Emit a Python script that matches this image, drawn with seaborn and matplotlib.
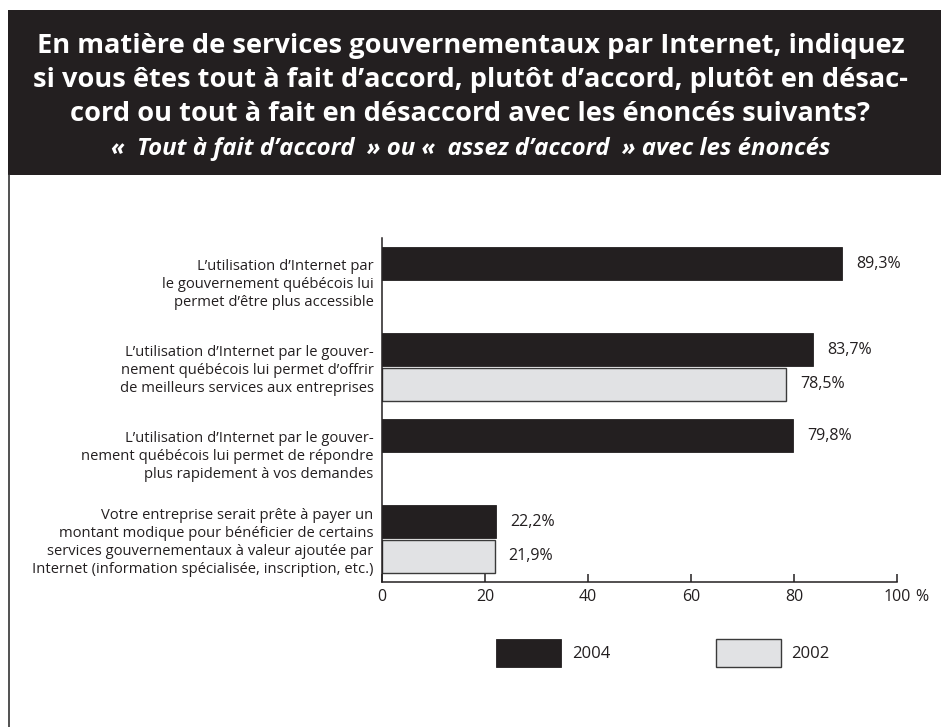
import numpy as np
import pandas as pd
import matplotlib
matplotlib.use("Agg")
import matplotlib.pyplot as plt
from matplotlib.patches import Rectangle, Patch
from matplotlib.lines import Line2D
import seaborn as sns

# --- data -------------------------------------------------------------
enonces = [
    "L\u2019utilisation d\u2019Internet par\nle gouvernement québécois lui\npermet d\u2019être plus accessible",
    "L\u2019utilisation d\u2019Internet par le gouver-\nnement québécois lui permet d\u2019offrir\nde meilleurs services aux entreprises",
    "L\u2019utilisation d\u2019Internet par le gouver-\nnement québécois lui permet de répondre\nplus rapidement à vos demandes",
    "Votre entreprise serait prête à payer un\nmontant modique pour bénéficier de certains\nservices gouvernementaux à valeur ajoutée par\nInternet (information spécialisée, inscription, etc.)",
]
annees = ["2004", "2002"]
pct_2004 = [89.3, 83.7, 79.8, 22.2]
pct_2002 = [np.nan, 78.5, np.nan, 21.9]
x_ticks = [0, 20, 40, 60, 80, 100]
x_ticklabels = ["0", "20", "40", "60", "80", "100"]

titre = ("En matière de services gouvernementaux par Internet, indiquez\n"
         "si vous êtes tout à fait d\u2019accord, plutôt d\u2019accord, plutôt en désac-\n"
         "cord ou tout à fait en désaccord avec les énoncés suivants?")
sous_titre = "«  Tout à fait d\u2019accord  » ou «  assez d\u2019accord  » avec les énoncés"

df = pd.DataFrame({
    "enonce": enonces * 2,
    "annee": [annees[0]] * len(enonces) + [annees[1]] * len(enonces),
    "pct": pct_2004 + pct_2002,
})

# --- style ------------------------------------------------------------
sns.set_theme(style="white")
plt.rcParams["font.family"] = ["Open Sans", "DejaVu Sans"]

DARK = "#231f20"
LIGHT = "#e1e2e4"
palette = {"2004": DARK, "2002": LIGHT}

W, H = 941, 727
fig = plt.figure(figsize=(W / 100, H / 100), dpi=100)

# header band and left frame line
fig.add_artist(Rectangle((8 / W, 1 - 175 / H), 1 - 8 / W, 165 / H,
                         transform=fig.transFigure, facecolor=DARK,
                         edgecolor="none", zorder=0))
fig.add_artist(Line2D([8.5 / W, 8.5 / W], [0, 1 - 175 / H],
                      transform=fig.transFigure, color="#333333", lw=1.2))

fig.text(0.5, 1 - 80 / H, titre, ha="center", va="center",
         multialignment="center", color="white", fontsize=19.6,
         fontweight="bold", linespacing=1.4)
fig.text(0.5, 1 - 149 / H, sous_titre, ha="center", va="center",
         color="white", fontsize=17.3, fontweight="bold", style="italic")

ax = fig.add_axes([382 / W, 1 - 582 / H, 515 / W, 344 / H])
sns.barplot(data=df, y="enonce", x="pct", hue="annee", hue_order=annees,
            palette=palette, orient="h", width=0.8, gap=0.05,
            errorbar=None, saturation=1, legend=False, ax=ax)

for cont, ec, lw in zip(ax.containers, [DARK, "#3a3a3a"], [0.6, 1.0]):
    for bar in cont:
        bar.set_edgecolor(ec)
        bar.set_linewidth(lw)
    labels = ["" if np.isnan(v) else f"{v:.1f}%".replace(".", ",")
              for v in cont.datavalues]
    ax.bar_label(cont, labels=labels, padding=10, fontsize=11.5, color=DARK)

ax.set_xlim(0, 100)
ax.set_ylim(3.5, -0.5)
ax.set_xticks(x_ticks)
ax.set_xticklabels(x_ticklabels)
ax.set_xlabel("")
ax.set_ylabel("")
ax.tick_params(axis="x", direction="in", length=6, width=1.1, color=DARK,
               labelsize=11.5, labelcolor=DARK, pad=5, bottom=True)
ax.tick_params(axis="y", length=0, labelsize=10.6, labelcolor=DARK, pad=6)
for lbl in ax.get_yticklabels():
    lbl.set_multialignment("right")
    lbl.set_linespacing(1.27)
ax.annotate("%", xy=(100, 0), xycoords=("data", "axes fraction"),
            xytext=(13, -5), textcoords="offset points", ha="left", va="top",
            fontsize=11.5, color=DARK)

for side in ["top", "right"]:
    ax.spines[side].set_visible(False)
for side in ["left", "bottom"]:
    ax.spines[side].set_color(DARK)
    ax.spines[side].set_linewidth(1.1)

handles = [Patch(facecolor=DARK, edgecolor=DARK, linewidth=0.6),
           Patch(facecolor=LIGHT, edgecolor="#3a3a3a", linewidth=1.0)]
fig.legend(handles, annees, loc="center", ncol=2, frameon=False,
           bbox_to_anchor=(663 / W, 1 - 653 / H), fontsize=12,
           handlelength=3.9, handleheight=2.15, handletextpad=0.65,
           columnspacing=6.3, labelcolor=DARK)

fig.savefig("out.png", dpi=100, facecolor="white")
